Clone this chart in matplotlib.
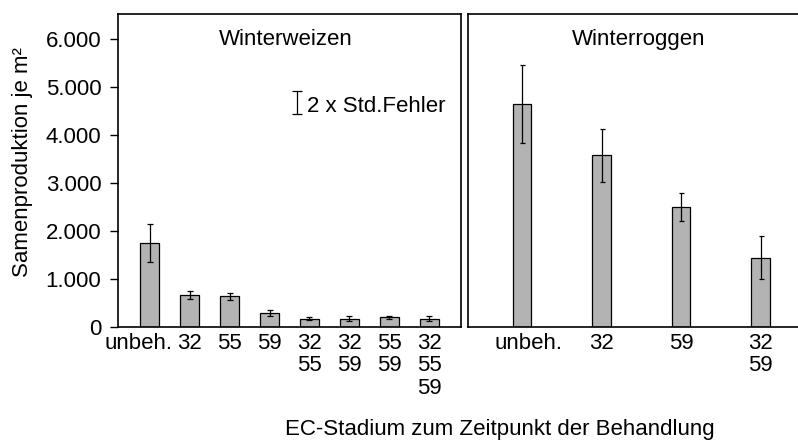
import matplotlib.pyplot as plt
import matplotlib.transforms as mtransforms
import numpy as np

plt.rcParams['font.family'] = ['Liberation Sans', 'DejaVu Sans']

# Winterweizen
ww_labels = ['unbeh.', '32', '55', '59', '32\n55', '32\n59', '55\n59', '32\n55\n59']
ww_mean = [1750, 665, 640, 295, 175, 175, 200, 175]
ww_err = [400, 75, 72, 62, 25, 55, 30, 48]

# Winterroggen
wr_labels = ['unbeh.', '32', '59', '32\n59']
wr_mean = [4640, 3580, 2495, 1445]
wr_err = [815, 553, 296, 442]

yticks = [0, 1000, 2000, 3000, 4000, 5000, 6000]
ytick_labels = ['0', '1.000', '2.000', '3.000', '4.000', '5.000', '6.000']

bar_col = '#b3b3b3'
fs = 16

fig = plt.figure(figsize=(7.98, 4.41), dpi=100)
ax1 = fig.add_axes([118 / 798, 1 - 327 / 441, (461 - 118) / 798, 313 / 441])
ax2 = fig.add_axes([468 / 798, 1 - 327 / 441, (798 - 468) / 798, 313 / 441])

x1 = np.arange(len(ww_mean))
ax1.bar(x1, ww_mean, width=0.46, color=bar_col, edgecolor='black', linewidth=0.9)
ax1.errorbar(x1, ww_mean, yerr=ww_err, fmt='none', ecolor='black',
             elinewidth=0.9, capsize=2.5, capthick=0.9)
ax1.set_xlim(-0.79, 7.79)
ax1.set_ylim(0, 6520)
ax1.set_yticks(yticks)
ax1.set_yticklabels(ytick_labels)
ax1.set_xticks(x1)
ax1.set_xticklabels(ww_labels, linespacing=1.1)
ax1.tick_params(axis='y', labelsize=fs, length=5.5, width=1.0, pad=6.5)
ax1.tick_params(axis='x', labelsize=fs, length=0, pad=4)
ax1.text(0.49, 0.901, 'Winterweizen', transform=ax1.transAxes,
         ha='center', va='baseline', fontsize=fs)

# legend-like error bar
ax1.errorbar([3.69], [4680], yerr=[235], fmt='none', ecolor='black',
             elinewidth=0.9, capsize=3.6, capthick=0.9)
ax1.text(3.94, 4484, '2 x Std.Fehler', ha='left', va='baseline', fontsize=fs)

x2 = np.arange(len(wr_mean))
ax2.bar(x2, wr_mean, width=0.235, color=bar_col, edgecolor='black', linewidth=0.9)
ax2.errorbar(x2, wr_mean, yerr=wr_err, fmt='none', ecolor='black',
             elinewidth=0.9, capsize=1.8, capthick=0.9)
ax2.set_xlim(-0.679, 3.469)
ax2.set_ylim(0, 6520)
ax2.set_yticks([])
ax2.set_xticks(x2)
ax2.set_xticklabels(wr_labels, linespacing=1.1)
ax2.tick_params(axis='x', labelsize=fs, length=0, pad=4)
ax2.spines['right'].set_visible(False)
ax2.text(0.5176, 0.901, 'Winterroggen', transform=ax2.transAxes,
         ha='center', va='baseline', fontsize=fs)

# nudge the "unbeh." labels like in the original
lab = ax1.get_xticklabels()[0]
lab.set_transform(lab.get_transform() + mtransforms.ScaledTranslation(-0.11, 0, fig.dpi_scale_trans))
lab = ax2.get_xticklabels()[0]
lab.set_transform(lab.get_transform() + mtransforms.ScaledTranslation(0.06, 0, fig.dpi_scale_trans))

for ax in (ax1, ax2):
    for s in ax.spines.values():
        s.set_linewidth(1.2)

fig.text(23 / 798, 1 - 162.5 / 441, 'Samenproduktion je m²', rotation=90,
         ha='center', va='center', fontsize=fs)
fig.text(500 / 798, 1 - 435 / 441, 'EC-Stadium zum Zeitpunkt der Behandlung',
         ha='center', va='baseline', fontsize=fs)

fig.savefig('out.png', dpi=100)
